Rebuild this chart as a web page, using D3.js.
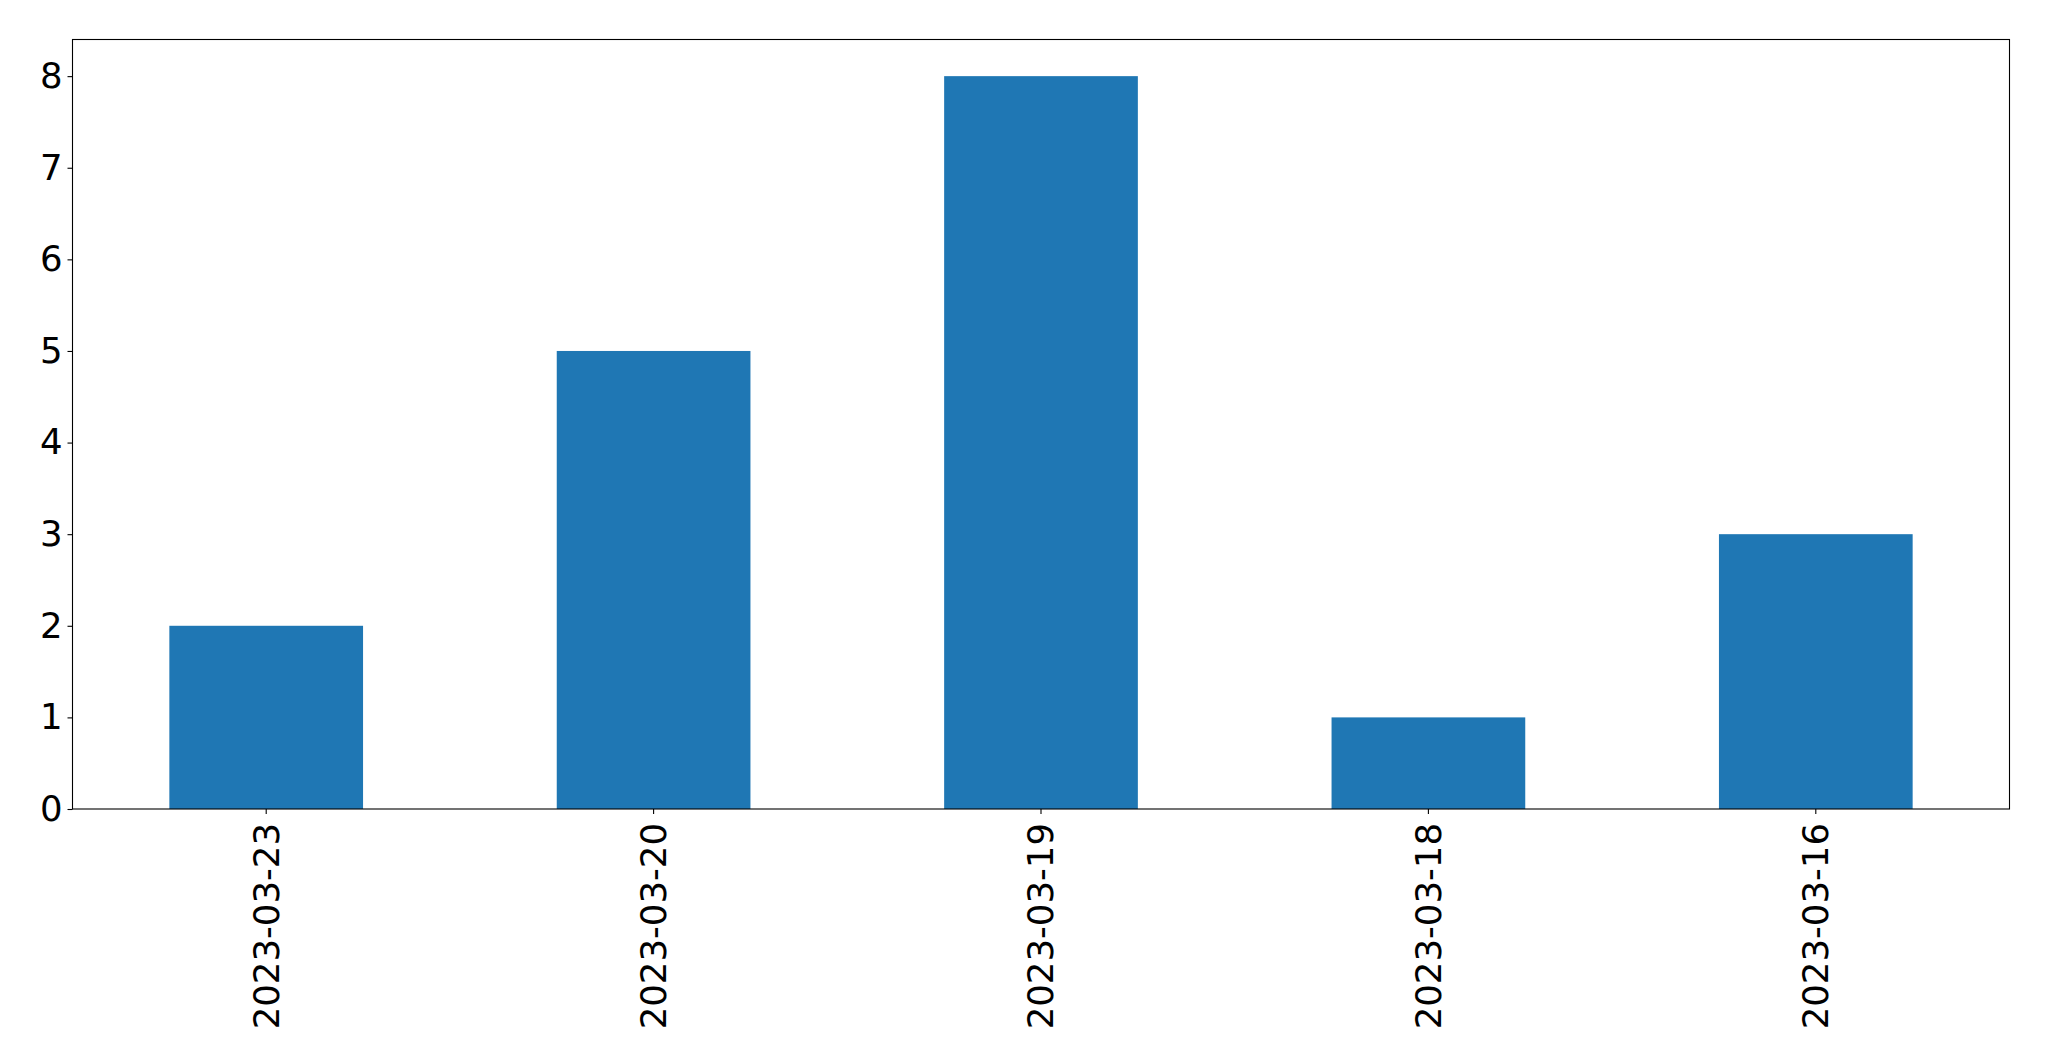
<!DOCTYPE html>
<html>
<head>
<meta charset="utf-8">
<script src="https://cdn.jsdelivr.net/npm/d3@7"></script>
<style>
  html, body { margin: 0; padding: 0; background: #fff; }
  svg { display: block; }
  text { font-family: "DejaVu Sans", sans-serif; fill: #000; }
</style>
</head>
<body>
<svg id="chart" width="2049" height="1061"></svg>
<script>
const categories = ["2023-03-23", "2023-03-20", "2023-03-19", "2023-03-18", "2023-03-16"];
const values = [2, 5, 8, 1, 3];
const yTicks = [0, 1, 2, 3, 4, 5, 6, 7, 8];

const W = 2049, H = 1061;
const m = { left: 72.5, right: W - 2009.5, top: 39.5, bottom: H - 809 };
const pw = W - m.left - m.right, ph = H - m.top - m.bottom;

const svg = d3.select("#chart");
const g = svg.append("g").attr("transform", `translate(${m.left},${m.top})`);

const x = d3.scaleBand().domain(categories).range([0, pw]).paddingInner(0.5).paddingOuter(0.25);
const y = d3.scaleLinear().domain([0, 8.4]).range([ph, 0]);

g.selectAll("rect.bar").data(values).join("rect")
  .attr("class", "bar")
  .attr("x", (d, i) => x(categories[i]))
  .attr("width", x.bandwidth())
  .attr("y", d => y(d))
  .attr("height", d => y(0) - y(d))
  .attr("fill", "#1f77b4");

const fs = 35.5;
const yAxis = g.append("g").call(d3.axisLeft(y).tickValues(yTicks).tickFormat(d3.format("d")).tickSize(5).tickPadding(5));
const xAxis = g.append("g").attr("transform", `translate(0,${ph})`).call(d3.axisBottom(x).tickSize(5).tickPadding(8));
[yAxis, xAxis].forEach(a => {
  a.select(".domain").remove();
  a.selectAll(".tick line").attr("stroke", "#000").attr("stroke-width", 1.1);
  a.selectAll("text").attr("font-size", fs).attr("font-family", "DejaVu Sans, sans-serif").attr("fill", "#000");
});
xAxis.selectAll(".tick text")
  .attr("transform", "rotate(-90)")
  .attr("text-anchor", "end")
  .attr("x", -14)
  .attr("y", 0)
  .attr("dy", "0.35em");

g.append("rect").attr("x", 0).attr("y", 0).attr("width", pw).attr("height", ph)
  .attr("fill", "none").attr("stroke", "#000").attr("stroke-width", 1.1);
</script>
</body>
</html>
